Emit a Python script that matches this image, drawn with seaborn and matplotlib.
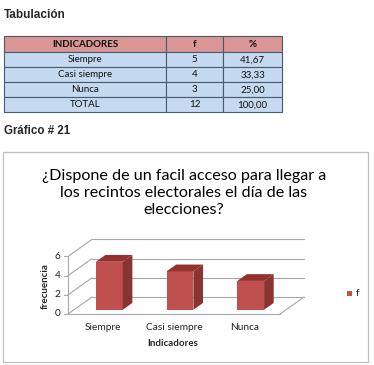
import matplotlib
matplotlib.use("Agg")
import matplotlib.pyplot as plt
import seaborn as sns
import pandas as pd
from matplotlib.patches import Rectangle, Polygon

# ---------------- data ----------------
categories = ["Siempre", "Casi siempre", "Nunca"]
frecuencia = [5, 4, 3]
porcentaje = ["41,67", "33,33", "25,00"]
total_label = "TOTAL"
total_f = "12"
total_pct = "100,00"
table_header = ["INDICADORES", "f", "%"]
y_ticks = [0, 2, 4, 6]
series_name = "f"
chart_title = "¿Dispone de un facil acceso para llegar a\nlos recintos electorales el día de las\nelecciones?"
heading_table = "Tabulación"
heading_chart = "Gráfico # 21"
x_label = "Indicadores"
y_label = "frecuencia"

sns.set_theme(style="white")
plt.rcParams['font.family'] = ['Lato', 'DejaVu Sans']

W, H = 374, 365
fig = plt.figure(figsize=(W / 100, H / 100), dpi=100)
fig.patch.set_facecolor("white")
bg = fig.add_axes([0, 0, 1, 1])
bg.set_xlim(0, W)
bg.set_ylim(H, 0)
bg.axis("off")

arial = ["Liberation Sans", "DejaVu Sans"]

# headings
bg.text(4, 15, heading_table, fontsize=8.5, fontweight="bold", family=arial, va="center", ha="left")
bg.text(4, 131, heading_chart, fontsize=8.3, fontweight="bold", family=arial, va="center", ha="left")

# ---------------- table ----------------
col_edges = [4, 166, 223, 282]
row_edges = [36, 52, 67, 82, 97, 112]
rows = [table_header] + [[c, str(v), p] for c, v, p in zip(categories, frecuencia, porcentaje)] + \
       [[total_label, total_f, total_pct]]
for r, row in enumerate(rows):
    y0, y1 = row_edges[r], row_edges[r + 1]
    fc = "#DA9694" if r == 0 else "#C5D9F1"
    for c, txt in enumerate(row):
        x0, x1 = col_edges[c], col_edges[c + 1]
        bg.add_patch(Rectangle((x0, y0), x1 - x0, y1 - y0, facecolor=fc,
                               edgecolor="#4A5A6E", linewidth=0.8))
        bg.text((x0 + x1) / 2, (y0 + y1) / 2 + 0.3, txt, fontsize=7.0,
                fontweight="bold" if r == 0 else "normal", ha="center", va="center",
                color="#111111")

# ---------------- chart box ----------------
bg.add_patch(Rectangle((3, 152), 365, 210, facecolor="white", edgecolor="#BFBFBF", linewidth=0.9))
bg.text(184, 193, chart_title, fontsize=11.6, ha="center", va="center", linespacing=1.3,
        color="#000000")

# ---------------- 3D-like bar chart ----------------
px_x0, px_x1 = 68, 280          # front plane
depth_px = (24, 17)
ppu_y = 9.6
ppu_x = (px_x1 - px_x0) / 3.0
dxu = depth_px[0] / ppu_x
dyu = depth_px[1] / ppu_y
ymax = 6
ax_left, ax_right = px_x0, px_x1 + depth_px[0]
ax_bottom = 314
ax_top = ax_bottom - (ymax * ppu_y + depth_px[1])
ax = fig.add_axes([ax_left / W, 1 - ax_bottom / H, (ax_right - ax_left) / W, (ax_bottom - ax_top) / H])
ax.set_xlim(-0.5, 2.5 + dxu)
ax.set_ylim(0, ymax + dyu)
ax.axis("off")

grid_c = "#A6A6A6"
# back wall gridlines + left wall diagonals
for k in y_ticks:
    ax.plot([-0.5 + dxu, 2.5 + dxu], [k + dyu, k + dyu], color=grid_c, lw=0.8, zorder=1, clip_on=False)
    ax.plot([-0.5, -0.5 + dxu], [k, k + dyu], color=grid_c, lw=0.8, zorder=1, clip_on=False)
    ax.plot([-0.5 - 0.06, -0.5], [k, k], color=grid_c, lw=0.8, zorder=1, clip_on=False)
    ax.text(-0.5 - 0.11, k, str(k), ha="right", va="center", fontsize=7.3, color="#222222")
# floor front edge and right diagonal, left vertical axis
ax.plot([-0.5, 2.5], [0, 0], color=grid_c, lw=0.8, zorder=1, clip_on=False)
ax.plot([2.5, 2.5 + dxu], [0, dyu], color=grid_c, lw=0.8, zorder=1, clip_on=False)
ax.plot([-0.5, -0.5], [0, ymax], color=grid_c, lw=0.8, zorder=1, clip_on=False)

df = pd.DataFrame({"Indicadores": categories, series_name: frecuencia})
front_c = "#C0504D"
side_c = "#8A3431"
top_c = "#93312F"
sns.barplot(data=df, x="Indicadores", y=series_name, color=front_c, width=0.38,
            saturation=1, ax=ax, zorder=3)
ax.set_xlim(-0.5, 2.5 + dxu)
ax.set_ylim(0, ymax + dyu)
ax.axis("off")

fpos = 0.25   # depth position of bar front
bdep = 0.40   # bar depth fraction
for p in ax.patches:
    x = p.get_x() + fpos * dxu
    y0 = fpos * dyu
    h = p.get_height()
    w = p.get_width()
    p.set_x(x)
    p.set_y(y0)
    p.set_edgecolor("none")
    bx, by = bdep * dxu, bdep * dyu
    side = Polygon([(x + w, y0), (x + w + bx, y0 + by), (x + w + bx, y0 + h + by), (x + w, y0 + h)],
                   closed=True, facecolor=side_c, edgecolor="none", zorder=3)
    top = Polygon([(x, y0 + h), (x + bx, y0 + h + by), (x + w + bx, y0 + h + by), (x + w, y0 + h)],
                  closed=True, facecolor=top_c, edgecolor="none", zorder=3)
    ax.add_patch(side)
    ax.add_patch(top)

for i, c in enumerate(categories):
    ax.text(i, -1.4, c, ha="center", va="center", fontsize=7.3, color="#222222")

bg.text(173, 343, x_label, fontsize=7.0, fontweight="bold", ha="center", va="center")
bg.text(45, 286, y_label, fontsize=7.0, fontweight="bold", ha="center", va="center", rotation=90)

# legend
bg.add_patch(Rectangle((347, 290.5), 5, 5, facecolor=front_c, edgecolor="none"))
bg.text(356, 293, series_name, fontsize=7.3, ha="left", va="center")

fig.savefig("out.png", dpi=100, facecolor="white")
